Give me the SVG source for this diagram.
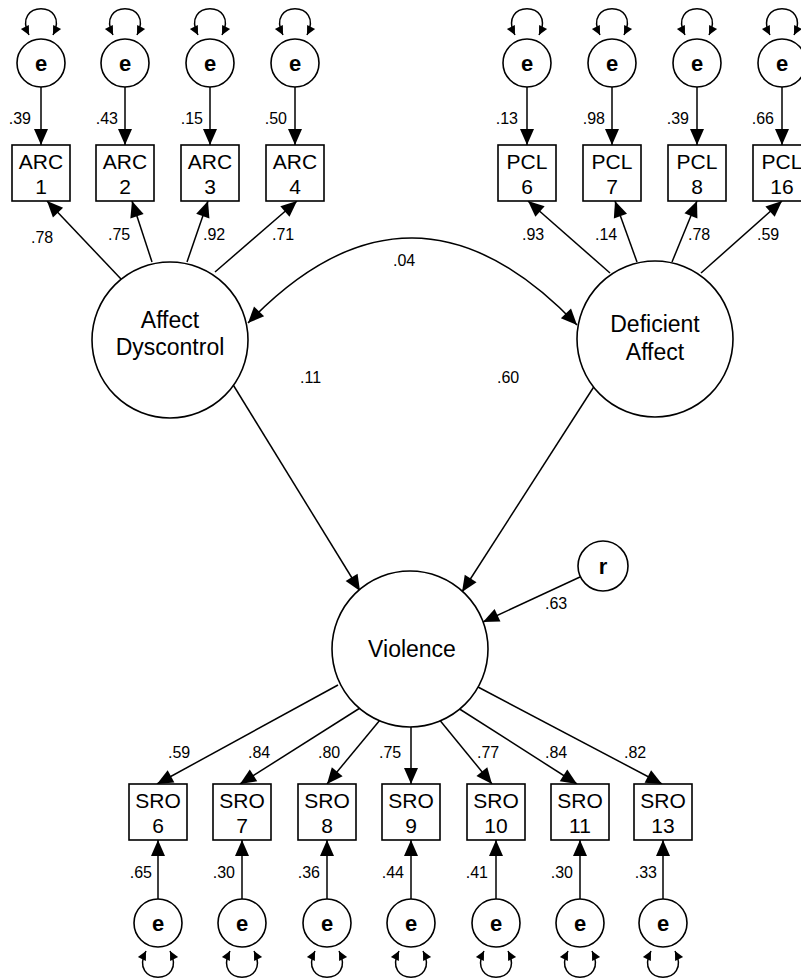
<svg xmlns="http://www.w3.org/2000/svg" width="801" height="978" viewBox="0 0 801 978">
<style>
.ln{stroke:#000;stroke-width:1.5;fill:none}
.ar{marker-end:url(#ah)}
.lp{marker-start:url(#sh);marker-end:url(#sh)}
.nd{fill:#fff;stroke:#000;stroke-width:1.6}
.bx{font-family:"Liberation Sans",Arial,sans-serif;font-size:21px;text-anchor:middle;fill:#000}
.lt{font-family:"Liberation Sans",Arial,sans-serif;font-size:23px;text-anchor:middle;fill:#000}
.ev{font-family:"Liberation Sans",Arial,sans-serif;font-size:22px;font-weight:bold;text-anchor:middle;fill:#000}
.lb{font-family:"Liberation Sans",Arial,sans-serif;font-size:16px;fill:#000}
.le{text-anchor:end}
</style>
<defs>
<marker id="ah" markerUnits="userSpaceOnUse" markerWidth="17" markerHeight="14" refX="16" refY="7" orient="auto-start-reverse" overflow="visible">
<path d="M0,0 L16,7 L0,14 z" fill="#000"/>
</marker>
<marker id="sh" markerUnits="userSpaceOnUse" markerWidth="10" markerHeight="10" refX="9" refY="4.5" orient="auto-start-reverse" overflow="visible">
<path d="M0,0 L9,4.5 L0,9 z" fill="#000"/>
</marker>
</defs>

<g id="connectors">
<path class="ln lp" d="M29,35 C11,0 71,0 53,35"/>
<path class="ln lp" d="M113,35 C95,0 155,0 137,35"/>
<path class="ln lp" d="M198,35 C180,0 240,0 222,35"/>
<path class="ln lp" d="M283,35 C265,0 325,0 307,35"/>
<path class="ln lp" d="M515,35 C497,0 557,0 539,35"/>
<path class="ln lp" d="M600,35 C582,0 642,0 624,35"/>
<path class="ln lp" d="M685,35 C667,0 727,0 709,35"/>
<path class="ln lp" d="M770,35 C752,0 812,0 794,35"/>
<line class="ln ar" x1="41" y1="87" x2="41" y2="145"/>
<line class="ln ar" x1="125" y1="87" x2="125" y2="145"/>
<line class="ln ar" x1="210" y1="87" x2="210" y2="145"/>
<line class="ln ar" x1="295" y1="87" x2="295" y2="145"/>
<line class="ln ar" x1="527" y1="87" x2="527" y2="145"/>
<line class="ln ar" x1="612" y1="87" x2="612" y2="145"/>
<line class="ln ar" x1="697" y1="87" x2="697" y2="145"/>
<line class="ln ar" x1="782" y1="87" x2="782" y2="145"/>
<line class="ln ar" x1="121" y1="279" x2="47" y2="201"/>
<line class="ln ar" x1="152" y1="262" x2="132" y2="201"/>
<line class="ln ar" x1="187" y1="262" x2="208" y2="201"/>
<line class="ln ar" x1="215" y1="272" x2="297" y2="201"/>
<line class="ln ar" x1="610" y1="273" x2="528" y2="201"/>
<line class="ln ar" x1="637" y1="262" x2="615" y2="201"/>
<line class="ln ar" x1="672" y1="262" x2="697" y2="201"/>
<line class="ln ar" x1="701" y1="273" x2="782" y2="201"/>
<path class="ln ar" style="marker-start:url(#ah)" d="M248,323 Q412,152 577,325"/>
<line class="ln ar" x1="232" y1="383" x2="360" y2="591"/>
<line class="ln ar" x1="595" y1="385" x2="462" y2="592"/>
<line class="ln ar" x1="580" y1="577" x2="483" y2="622"/>
<line class="ln ar" x1="338" y1="685" x2="157" y2="784"/>
<line class="ln ar" x1="360" y1="708" x2="240" y2="784"/>
<line class="ln ar" x1="380" y1="720" x2="327" y2="784"/>
<line class="ln ar" x1="411" y1="726" x2="411" y2="784"/>
<line class="ln ar" x1="438" y1="718" x2="492" y2="784"/>
<line class="ln ar" x1="458" y1="708" x2="577" y2="784"/>
<line class="ln ar" x1="478" y1="687" x2="662" y2="784"/>
<line class="ln ar" x1="158" y1="899" x2="158" y2="840"/>
<line class="ln ar" x1="242" y1="899" x2="242" y2="840"/>
<line class="ln ar" x1="327" y1="899" x2="327" y2="840"/>
<line class="ln ar" x1="411" y1="899" x2="411" y2="840"/>
<line class="ln ar" x1="496" y1="899" x2="496" y2="840"/>
<line class="ln ar" x1="580" y1="899" x2="580" y2="840"/>
<line class="ln ar" x1="663" y1="899" x2="663" y2="840"/>
<path class="ln lp" d="M146,951 C128,986 188,986 170,951"/>
<path class="ln lp" d="M230,951 C212,986 272,986 254,951"/>
<path class="ln lp" d="M315,951 C297,986 357,986 339,951"/>
<path class="ln lp" d="M399,951 C381,986 441,986 423,951"/>
<path class="ln lp" d="M484,951 C466,986 526,986 508,951"/>
<path class="ln lp" d="M568,951 C550,986 610,986 592,951"/>
<path class="ln lp" d="M651,951 C633,986 693,986 675,951"/>
</g>

<g id="labels">
<text class="lb le" x="31" y="124">.39</text>
<text class="lb le" x="118" y="124">.43</text>
<text class="lb le" x="203" y="124">.15</text>
<text class="lb le" x="287" y="124">.50</text>
<text class="lb le" x="518" y="124">.13</text>
<text class="lb le" x="605" y="124">.98</text>
<text class="lb le" x="689" y="124">.39</text>
<text class="lb le" x="774" y="124">.66</text>
<text class="lb" x="31" y="243">.78</text>
<text class="lb" x="108" y="240">.75</text>
<text class="lb" x="203" y="240">.92</text>
<text class="lb" x="272" y="240">.71</text>
<text class="lb" x="522" y="240">.93</text>
<text class="lb" x="595" y="240">.14</text>
<text class="lb" x="688" y="240">.78</text>
<text class="lb" x="757" y="240">.59</text>
<text class="lb" x="393" y="266">.04</text>
<text class="lb" x="300" y="383">.11</text>
<text class="lb" x="497" y="383">.60</text>
<text class="lb" x="545" y="609">.63</text>
<text class="lb" x="168" y="758">.59</text>
<text class="lb" x="248" y="758">.84</text>
<text class="lb" x="318" y="758">.80</text>
<text class="lb" x="379" y="758">.75</text>
<text class="lb" x="477" y="758">.77</text>
<text class="lb" x="545" y="758">.84</text>
<text class="lb" x="624" y="758">.82</text>
<text class="lb le" x="152" y="878">.65</text>
<text class="lb le" x="235" y="878">.30</text>
<text class="lb le" x="320" y="878">.36</text>
<text class="lb le" x="404" y="878">.44</text>
<text class="lb le" x="488" y="878">.41</text>
<text class="lb le" x="573" y="878">.30</text>
<text class="lb le" x="657" y="878">.33</text>
</g>

<g id="e_arc1"><circle class="nd" cx="41" cy="63" r="24"/><text class="ev" x="41" y="71">e</text></g>
<g id="e_arc2"><circle class="nd" cx="125" cy="63" r="24"/><text class="ev" x="125" y="71">e</text></g>
<g id="e_arc3"><circle class="nd" cx="210" cy="63" r="24"/><text class="ev" x="210" y="71">e</text></g>
<g id="e_arc4"><circle class="nd" cx="295" cy="63" r="24"/><text class="ev" x="295" y="71">e</text></g>
<g id="e_pcl6"><circle class="nd" cx="527" cy="63" r="24"/><text class="ev" x="527" y="71">e</text></g>
<g id="e_pcl7"><circle class="nd" cx="612" cy="63" r="24"/><text class="ev" x="612" y="71">e</text></g>
<g id="e_pcl8"><circle class="nd" cx="697" cy="63" r="24"/><text class="ev" x="697" y="71">e</text></g>
<g id="e_pcl16"><circle class="nd" cx="782" cy="63" r="24"/><text class="ev" x="782" y="71">e</text></g>

<g id="arc1"><rect class="nd" x="12" y="145" width="58" height="56"/><text class="bx" x="41" y="169">ARC</text><text class="bx" x="41" y="194">1</text></g>
<g id="arc2"><rect class="nd" x="96" y="145" width="58" height="56"/><text class="bx" x="125" y="169">ARC</text><text class="bx" x="125" y="194">2</text></g>
<g id="arc3"><rect class="nd" x="181" y="145" width="58" height="56"/><text class="bx" x="210" y="169">ARC</text><text class="bx" x="210" y="194">3</text></g>
<g id="arc4"><rect class="nd" x="266" y="145" width="58" height="56"/><text class="bx" x="295" y="169">ARC</text><text class="bx" x="295" y="194">4</text></g>
<g id="pcl6"><rect class="nd" x="498" y="145" width="58" height="56"/><text class="bx" x="527" y="169">PCL</text><text class="bx" x="527" y="194">6</text></g>
<g id="pcl7"><rect class="nd" x="583" y="145" width="58" height="56"/><text class="bx" x="612" y="169">PCL</text><text class="bx" x="612" y="194">7</text></g>
<g id="pcl8"><rect class="nd" x="668" y="145" width="58" height="56"/><text class="bx" x="697" y="169">PCL</text><text class="bx" x="697" y="194">8</text></g>
<g id="pcl16"><rect class="nd" x="753" y="145" width="58" height="56"/><text class="bx" x="782" y="169">PCL</text><text class="bx" x="782" y="194">16</text></g>

<g id="affect_dyscontrol"><circle class="nd" cx="170" cy="340" r="78"/><text class="lt" x="170" y="328">Affect</text><text class="lt" x="170" y="355">Dyscontrol</text></g>
<g id="deficient_affect"><circle class="nd" cx="655" cy="339" r="78"/><text class="lt" x="655" y="332">Deficient</text><text class="lt" x="655" y="360">Affect</text></g>
<g id="violence"><circle class="nd" cx="410" cy="649" r="78"/><text class="lt" x="412" y="657">Violence</text></g>
<g id="r"><circle class="nd" cx="603" cy="566" r="25"/><text class="ev" x="603" y="574">r</text></g>

<g id="sro6"><rect class="nd" x="129" y="784" width="58" height="56"/><text class="bx" x="158" y="808">SRO</text><text class="bx" x="158" y="833">6</text></g>
<g id="sro7"><rect class="nd" x="213" y="784" width="58" height="56"/><text class="bx" x="242" y="808">SRO</text><text class="bx" x="242" y="833">7</text></g>
<g id="sro8"><rect class="nd" x="298" y="784" width="58" height="56"/><text class="bx" x="327" y="808">SRO</text><text class="bx" x="327" y="833">8</text></g>
<g id="sro9"><rect class="nd" x="382" y="784" width="58" height="56"/><text class="bx" x="411" y="808">SRO</text><text class="bx" x="411" y="833">9</text></g>
<g id="sro10"><rect class="nd" x="467" y="784" width="58" height="56"/><text class="bx" x="496" y="808">SRO</text><text class="bx" x="496" y="833">10</text></g>
<g id="sro11"><rect class="nd" x="551" y="784" width="58" height="56"/><text class="bx" x="580" y="808">SRO</text><text class="bx" x="580" y="833">11</text></g>
<g id="sro13"><rect class="nd" x="634" y="784" width="58" height="56"/><text class="bx" x="663" y="808">SRO</text><text class="bx" x="663" y="833">13</text></g>

<g id="e_sro6"><circle class="nd" cx="158" cy="923" r="24"/><text class="ev" x="158" y="931">e</text></g>
<g id="e_sro7"><circle class="nd" cx="242" cy="923" r="24"/><text class="ev" x="242" y="931">e</text></g>
<g id="e_sro8"><circle class="nd" cx="327" cy="923" r="24"/><text class="ev" x="327" y="931">e</text></g>
<g id="e_sro9"><circle class="nd" cx="411" cy="923" r="24"/><text class="ev" x="411" y="931">e</text></g>
<g id="e_sro10"><circle class="nd" cx="496" cy="923" r="24"/><text class="ev" x="496" y="931">e</text></g>
<g id="e_sro11"><circle class="nd" cx="580" cy="923" r="24"/><text class="ev" x="580" y="931">e</text></g>
<g id="e_sro13"><circle class="nd" cx="663" cy="923" r="24"/><text class="ev" x="663" y="931">e</text></g>
</svg>
